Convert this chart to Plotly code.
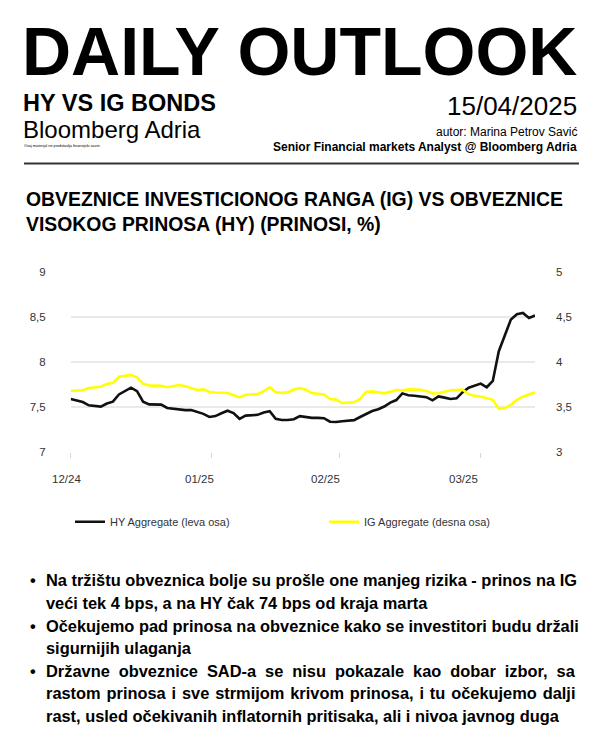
import plotly.graph_objects as go

# ---------------- data ----------------
hy_values = [7.59, 7.575, 7.556, 7.52, 7.51, 7.505, 7.54, 7.56, 7.64, 7.673,
             7.715, 7.676, 7.56, 7.53, 7.527, 7.527, 7.49, 7.48, 7.475, 7.466,
             7.468, 7.45, 7.425, 7.39, 7.40, 7.432, 7.46, 7.434, 7.37, 7.405,
             7.412, 7.414, 7.44, 7.455, 7.37, 7.356, 7.356, 7.366, 7.40, 7.39,
             7.38, 7.38, 7.377, 7.338, 7.334, 7.343, 7.35, 7.355, 7.39, 7.42,
             7.456, 7.476, 7.506, 7.55, 7.578, 7.652, 7.632, 7.625, 7.62, 7.61,
             7.575, 7.618, 7.605, 7.59, 7.597, 7.665, 7.715, 7.74, 7.76, 7.72,
             7.79, 8.12, 8.30, 8.47, 8.53, 8.543, 8.487, 8.515]
ig_values = [3.68, 3.68, 3.686, 3.712, 3.716, 3.725, 3.757, 3.769, 3.837, 3.847,
             3.857, 3.83, 3.76, 3.741, 3.738, 3.736, 3.72, 3.73, 3.744, 3.73,
             3.71, 3.69, 3.698, 3.668, 3.662, 3.66, 3.657, 3.633, 3.607, 3.637,
             3.644, 3.644, 3.676, 3.72, 3.665, 3.658, 3.663, 3.695, 3.71, 3.693,
             3.655, 3.65, 3.64, 3.59, 3.583, 3.545, 3.55, 3.553, 3.59, 3.668,
             3.674, 3.665, 3.652, 3.67, 3.69, 3.684, 3.696, 3.694, 3.692, 3.677,
             3.65, 3.653, 3.668, 3.686, 3.69, 3.693, 3.642, 3.625, 3.617, 3.60,
             3.58, 3.48, 3.49, 3.524, 3.58, 3.615, 3.637, 3.664]
x_index = list(range(len(hy_values)))

month_tick_positions = [0, 23.3, 44.6, 67.9]
month_labels = ["12/24", "01/25", "02/25", "03/25"]
month_label_shift_px = [-4, -12, -14, -17]
left_ticks = [7, 7.5, 8, 8.5, 9]
right_ticks = [3, 3.5, 4, 4.5, 5]

series_names = ["HY Aggregate (leva osa)", "IG Aggregate (desna osa)"]

headline = "DAILY OUTLOOK"
subtitle = "HY VS IG BONDS"
brand = "Bloomberg Adria"
disclaimer = "Ovaj materijal ne predstavlja finansijski savet."
date_text = "15/04/2025"
author = "autor: Marina Petrov Savić"
author_role = "Senior Financial markets Analyst @ Bloomberg Adria"
chart_title = ["OBVEZNICE INVESTICIONOG RANGA (IG) VS OBVEZNICE",
               "VISOKOG PRINOSA (HY) (PRINOSI, %)"]
bullets = [
    ["Na tržištu obveznica bolje su prošle one manjeg rizika - prinos na IG",
     "veći tek 4 bps, a na HY čak 74 bps od kraja marta"],
    ["Očekujemo pad prinosa na obveznice kako se investitori budu držali",
     "sigurnijih ulaganja"],
    ["Državne obveznice SAD-a se nisu pokazale kao dobar izbor, sa",
     "rastom prinosa i sve strmijom krivom prinosa, i tu očekujemo dalji",
     "rast, usled očekivanih inflatornih pritisaka, ali i nivoa javnog duga"],
]
# extra word spacing (px) per bullet line to imitate justified text
bullet_word_spacing = [[0, 0], [0, 0], [4.4, 1.3, 0]]

# ---------------- layout helpers ----------------
W, H = 600, 750
OFF = 8  # page body margin of the browser
FONT = "Liberation Sans"


def px(x):
    return (x - OFF) / W


def py(y):
    return 1 - (y - OFF) / H


def fmt(v):
    return f"{v:g}".replace(".", ",")


fig = go.Figure()
fig.add_trace(go.Scatter(x=x_index, y=hy_values, mode="lines",
                         line=dict(color="#111111", width=2.6),
                         name=series_names[0], legend="legend"))
fig.add_trace(go.Scatter(x=x_index, y=ig_values, mode="lines",
                         line=dict(color="#ffff00", width=2.6),
                         name=series_names[1], yaxis="y2", legend="legend2"))

annotations = []


def ann(text, x, y, size, weight=400, xanchor="left", color="#000000"):
    annotations.append(dict(text=text, x=px(x), y=py(y), xref="paper", yref="paper",
                            xanchor=xanchor, yanchor="middle", showarrow=False,
                            font=dict(family=FONT, size=size, color=color, weight=weight)))


ann(headline, 20, 46, 68, 700)
ann(subtitle, 21, 98.5, 23.5, 700)
ann(brand, 21, 125.5, 24, 400)
ann(disclaimer, 22, 142.5, 3.8, 400)
ann(date_text, 579, 101.5, 26, 400, "right")
ann(author, 579, 128, 12, 400, "right")
ann(author_role, 579, 143.5, 12, 700, "right")
ann(chart_title[0], 24, 196, 19.4, 700)
ann(chart_title[1], 24, 221, 19.4, 700)

line_no = 0
for b, lines in enumerate(bullets):
    for j, line in enumerate(lines):
        y = 583.5 + 23 * line_no
        if j == 0:
            ann("•", 28, y, 16.4, 700)
        ws = bullet_word_spacing[b][j]
        txt = f'<span style="word-spacing:{ws}px">{line}</span>' if ws else line
        ann(txt, 44, y, 16.4, 700)
        line_no += 1

for pos, lab, shift in zip(month_tick_positions, month_labels, month_label_shift_px):
    annotations.append(dict(text=lab, x=pos, xref="x", y=py(481), yref="paper",
                            xanchor="center", yanchor="middle", xshift=shift,
                            showarrow=False,
                            font=dict(family=FONT, size=11.5, color="#333333")))

fig.update_layout(
    width=W, height=H,
    margin=dict(l=0, r=0, t=0, b=0),
    paper_bgcolor="white", plot_bgcolor="white",
    separators=", ",
    font=dict(family=FONT, size=11.5, color="#333333"),
    xaxis=dict(domain=[px(70.7), px(535)], range=[0, len(hy_values) - 1],
               tickmode="array", tickvals=month_tick_positions,
               ticks="outside", ticklen=5, tickwidth=1, tickcolor="#d6d6d6",
               showticklabels=False, showgrid=False, zeroline=False, showline=False),
    yaxis=dict(domain=[py(453.3), py(270)], range=[7, 9],
               tickmode="array", tickvals=left_ticks,
               ticktext=[fmt(v) for v in left_ticks],
               showgrid=True, gridcolor="#e9e9e9", gridwidth=1.5,
               zeroline=False, showline=False, ticks="",
               ticklabelstandoff=24,
               tickfont=dict(family=FONT, size=11.5, color="#333333")),
    yaxis2=dict(overlaying="y", side="right", range=[3, 5],
                tickmode="array", tickvals=right_ticks,
                ticktext=[fmt(v) for v in right_ticks],
                showgrid=False, zeroline=False, showline=False, ticks="",
                ticklabelstandoff=20,
                tickfont=dict(family=FONT, size=11.5, color="#333333")),
    legend=dict(x=px(70), y=py(524), xanchor="left", yanchor="middle",
                orientation="h", bgcolor="rgba(0,0,0,0)",
                font=dict(family=FONT, size=11, color="#333333")),
    legend2=dict(x=px(324), y=py(524), xanchor="left", yanchor="middle",
                 orientation="h", bgcolor="rgba(0,0,0,0)",
                 font=dict(family=FONT, size=11, color="#333333")),
    showlegend=True,
    annotations=annotations,
    shapes=[dict(type="line", xref="paper", yref="paper",
                 x0=px(24), x1=px(579), y0=py(160), y1=py(160),
                 line=dict(color="#333333", width=2))],
)

fig.write_html("out.html")
